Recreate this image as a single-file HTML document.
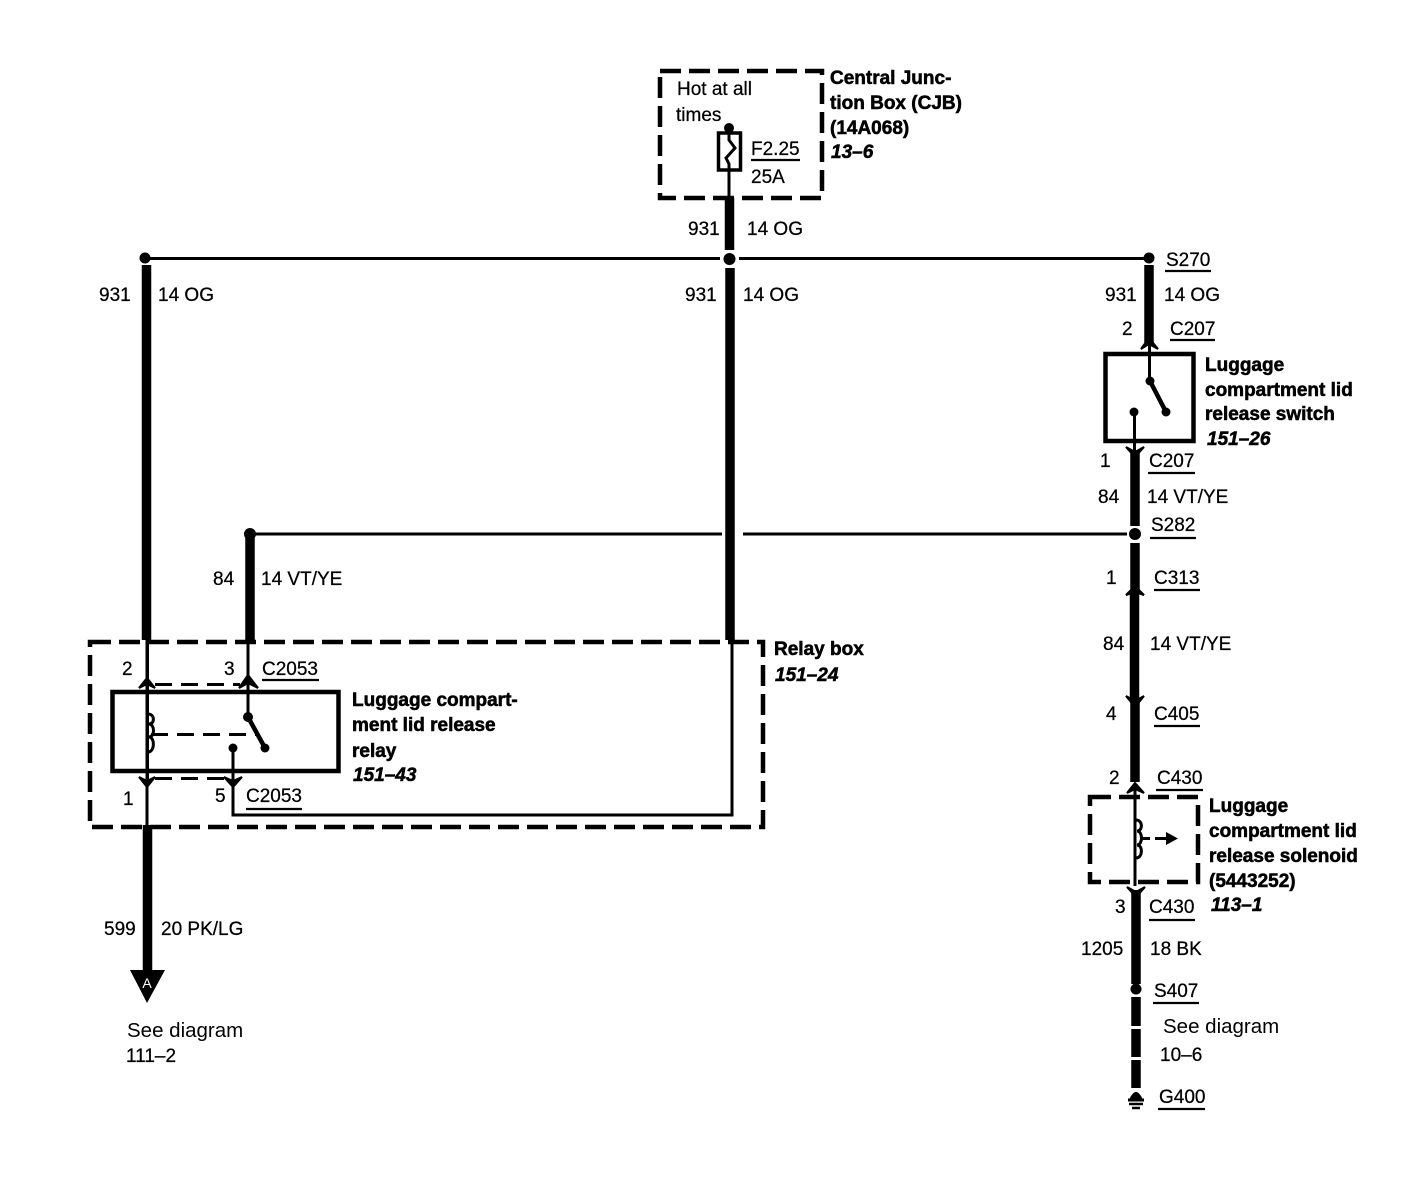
<!DOCTYPE html>
<html><head><meta charset="utf-8"><style>
html,body{margin:0;padding:0;background:#fff}
svg{display:block}
text{font-family:"Liberation Sans",sans-serif;font-size:19px;fill:#000;stroke:#000;stroke-width:.25px}
.b{font-weight:bold;stroke-width:.55px}
.i{font-weight:bold;font-style:italic;stroke-width:.55px}
.sd{font-size:20.5px;stroke-width:0}
.t{fill:none;stroke:#000;stroke-width:3}
.w{fill:none;stroke:#000;stroke-width:9.500}
.d{fill:none;stroke:#000;stroke-width:4.500;stroke-dasharray:21 8}
.s{fill:none;stroke:#000;stroke-width:3;stroke-dasharray:17 9}
.u{stroke:#000;stroke-width:2.200}
</style></head><body>
<svg width="1406" height="1200" viewBox="0 0 1406 1200" xmlns="http://www.w3.org/2000/svg">
<!-- CJB -->
<rect class="d" x="660" y="71" width="162" height="127"/>
<circle cx="729" cy="128" r="5"/>
<rect x="718.500" y="133" width="22" height="37" fill="none" stroke="#000" stroke-width="3.500"/>
<path class="t" d="M729 128V140L735 148L726 158L729 164V198"/>
<path class="u" d="M751 160H800"/>
<text x="677" y="95">Hot at all</text><text x="676" y="121">times</text>
<text x="751" y="155">F2.25</text><text x="751" y="183">25A</text>
<text class="b" x="830" y="84">Central Junc-</text>
<text class="b" x="830" y="109">tion Box (CJB)</text>
<text class="b" x="830" y="134">(14A068)</text>
<text class="i" x="831" y="158">13–6</text>
<path class="w" d="M729.500 198V250"/>
<text x="688" y="235">931</text><text x="747" y="235">14 OG</text>
<!-- top bus -->
<path class="t" d="M145 258.500H720M739 258.500H1150"/>
<circle cx="145" cy="258" r="5.500"/><circle cx="729.500" cy="259" r="6"/><circle cx="1149" cy="258" r="5.500"/>
<text x="1166" y="266">S270</text><path class="u" d="M1165 271H1211"/>
<!-- left vertical -->
<path class="w" d="M146.500 265V640"/>
<text x="99" y="301">931</text><text x="158" y="301">14 OG</text>
<path class="t" d="M147 640V830"/>
<path class="w" d="M147.500 825V972"/>
<text x="104" y="935">599</text><text x="161" y="935">20 PK/LG</text>
<path d="M130 970H165L147 1003Z"/>
<text x="147" y="988" text-anchor="middle" style="fill:#fff;stroke:none;font-size:14px">A</text>
<text class="sd" x="127" y="1037">See diagram</text><text x="126" y="1062">111–2</text>
<!-- center vertical -->
<path class="w" d="M730 268V640"/>
<text x="685" y="301">931</text><text x="743" y="301">14 OG</text>
<path class="t" d="M732 640V815H233V750"/>
<!-- 84 left -->
<circle cx="250" cy="534" r="6"/>
<path class="w" d="M250 534V640"/>
<path class="t" d="M250 534H722M743 534H1127"/>
<text x="213" y="585">84</text><text x="261" y="585">14 VT/YE</text>
<!-- relay box -->
<rect class="d" x="90" y="642" width="673" height="185"/>
<text x="122" y="675">2</text><text x="224" y="675">3</text>
<text x="262" y="675">C2053</text><path class="u" d="M262 680H319"/>
<rect x="112.500" y="692" width="226" height="79" fill="none" stroke="#000" stroke-width="4.500"/>
<path class="t" d="M147.500 640V785M248 640V716"/>
<path class="t" d="M148 714C155 714 155 724 149 724C155 724 155 737 149 737C155 737 155 752 148 752"/>
<path d="M139 688L147 678L155 688L147 684ZM239 688L248 675L258 688L248 683Z" stroke="#000" stroke-width="2"/>
<path class="s" d="M155 684.500H240"/>
<path class="s" d="M151 734.500H257"/>
<circle cx="248" cy="717" r="5"/>
<path d="M248 717L265 748" stroke="#000" stroke-width="4.500"/>
<circle cx="265" cy="748" r="4.500"/>
<circle cx="233" cy="748" r="4.500"/>
<path d="M139 777L147 787L155 777L147 781ZM224 777L233 787L242 777L233 781Z" stroke="#000" stroke-width="2"/>
<path class="s" d="M155 778.500H226"/>
<text x="123" y="805">1</text><text x="215" y="802">5</text>
<text x="246" y="802">C2053</text><path class="u" d="M246 809H302"/>
<text class="b" x="352" y="706">Luggage compart-</text>
<text class="b" x="352" y="731">ment lid release</text>
<text class="b" x="352" y="757">relay</text>
<text class="i" x="353" y="781">151–43</text>
<text class="b" x="774" y="655">Relay box</text>
<text class="i" x="775" y="681">151–24</text>
<!-- right column -->
<path class="w" d="M1149 265V345"/>
<text x="1105" y="301">931</text><text x="1164" y="301">14 OG</text>
<text x="1122" y="335">2</text>
<text x="1170" y="335">C207</text><path class="u" d="M1170 340H1215"/>
<path d="M1141 349L1149 338L1158 349L1149 344Z" stroke="#000" stroke-width="2"/>
<rect x="1105.500" y="354" width="88" height="87" fill="none" stroke="#000" stroke-width="4.500"/>
<path class="t" d="M1149.500 345V381"/>
<circle cx="1150" cy="381" r="4.500"/>
<path d="M1150 381L1166 412" stroke="#000" stroke-width="4.500"/>
<circle cx="1166" cy="412" r="4.500"/>
<circle cx="1134" cy="412" r="4.500"/>
<path class="t" d="M1134.500 412V450"/>
<text class="b" x="1205" y="371">Luggage</text>
<text class="b" x="1205" y="396">compartment lid</text>
<text class="b" x="1205" y="420">release switch</text>
<text class="i" x="1207" y="445">151–26</text>
<path d="M1126 447L1135 457L1144 447L1135 452Z" stroke="#000" stroke-width="2"/>
<path class="w" d="M1135 450V526"/>
<text x="1100" y="467">1</text>
<text x="1149" y="467">C207</text><path class="u" d="M1148 473H1195"/>
<text x="1098" y="503">84</text><text x="1147" y="503">14 VT/YE</text>
<text x="1151" y="531">S282</text><path class="u" d="M1150 538H1196"/>
<circle cx="1135" cy="534" r="6"/>
<path class="w" d="M1135 543V590"/>
<text x="1106" y="584">1</text>
<text x="1154" y="584">C313</text><path class="u" d="M1154 590H1200"/>
<path d="M1126 595L1135 586L1144 595L1135 592Z" stroke="#000" stroke-width="2"/>
<path class="w" d="M1134.500 592V700"/>
<text x="1103" y="650">84</text><text x="1150" y="650">14 VT/YE</text>
<path d="M1126 696L1135 707L1144 696L1135 701Z" stroke="#000" stroke-width="2"/>
<path class="w" d="M1135 700V782"/>
<text x="1106" y="720">4</text>
<text x="1154" y="720">C405</text><path class="u" d="M1154 726H1200"/>
<text x="1109" y="784">2</text>
<text x="1157" y="784">C430</text><path class="u" d="M1156 790H1203"/>
<path d="M1127 793L1135 783L1144 793L1135 789Z" stroke="#000" stroke-width="2"/>
<rect class="d" x="1090" y="797" width="108" height="85" stroke-dasharray="16 7"/>
<path class="t" d="M1135 790V886"/>
<path class="t" d="M1136 820C1143 820 1143 831 1137 831C1143 831 1143 845 1137 845C1143 845 1143 858 1136 858"/>
<path class="t" d="M1140 838.500H1150M1155 838.500H1168"/>
<path d="M1166 832L1178 838.500L1166 845Z"/>
<text class="b" x="1209" y="812">Luggage</text>
<text class="b" x="1209" y="837">compartment lid</text>
<text class="b" x="1209" y="862">release solenoid</text>
<text class="b" x="1209" y="887">(5443252)</text>
<text class="i" x="1211" y="911">113–1</text>
<path d="M1127 887L1136 897L1145 887L1136 892Z" stroke="#000" stroke-width="2"/>
<path class="w" d="M1136 890V984"/>
<text x="1115" y="913">3</text>
<text x="1149" y="913">C430</text><path class="u" d="M1149 920H1195"/>
<text x="1081" y="955">1205</text><text x="1150" y="955">18 BK</text>
<circle cx="1136" cy="989" r="5.500"/>
<text x="1154" y="997">S407</text><path class="u" d="M1153 1003H1199"/>
<path class="w" d="M1136 997V1026M1136 1029V1057M1136 1060V1088"/>
<text class="sd" x="1163" y="1033">See diagram</text><text x="1160" y="1061">10–6</text>
<path d="M1130 1099Q1136 1086 1142 1099Z" stroke="#000" stroke-width="1"/>
<path d="M1128 1100H1144" stroke="#000" stroke-width="3"/>
<path d="M1129 1104H1143M1132 1108H1140" stroke="#000" stroke-width="2.500"/>
<text x="1159" y="1103">G400</text><path class="u" d="M1158 1109H1205"/>
</svg>
</body></html>
